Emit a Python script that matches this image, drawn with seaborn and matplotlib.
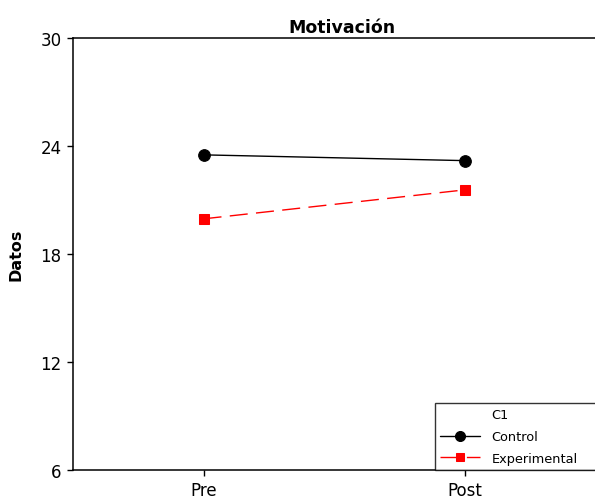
import matplotlib
matplotlib.use("Agg")
import matplotlib.pyplot as plt
from matplotlib.lines import Line2D
import seaborn as sns
import pandas as pd

# Data
periods = ["Pre", "Post"]
control = [23.5, 23.18]
experimental = [19.95, 21.56]
groups = ["Control", "Experimental"]
legend_title = "C1"
yticks = [6, 12, 18, 24, 30]

df = pd.DataFrame({
    "Periodo": periods * 2,
    "Datos": control + experimental,
    "C1": [groups[0]] * 2 + [groups[1]] * 2,
})

sns.set_theme(style="white")
plt.rcParams["font.family"] = ["DejaVu Sans"]
plt.rcParams["text.color"] = "black"
plt.rcParams["axes.labelcolor"] = "black"
plt.rcParams["axes.titlecolor"] = "black"
plt.rcParams["legend.labelcolor"] = "black"

fig = plt.figure(figsize=(5.95, 5.02), dpi=100)
W, H = 595, 502
ax_left, ax_right, ax_top, ax_bottom = 72.7, 596.0, 38.7, 471.3
ax = fig.add_axes([ax_left / W, (H - ax_bottom) / H,
                   (ax_right - ax_left) / W, (ax_bottom - ax_top) / H])

sns.pointplot(data=df, x="Periodo", y="Datos", hue="C1", order=periods,
              hue_order=groups, palette=["black", "#ff0000"],
              markers=["o", "s"], linestyles=["-", (0, (13, 6))],
              errorbar=None, markersize=8.4, linewidth=1.0, ax=ax)

# slightly smaller squares, as in the reference
for ln in ax.lines:
    if ln.get_marker() == "s":
        ln.set_markersize(7.2)

ax.set_xlim(-0.5, 1.5)
ax.set_ylim(6, 30)
ax.set_yticks(yticks)
ax.set_yticklabels([str(t) for t in yticks])
ax.set_xlabel("")
ax.set_ylabel("Datos", fontsize=11.5, fontweight="bold", labelpad=12,
              color="black")

for side in ["left", "top", "bottom"]:
    ax.spines[side].set_color("black")
    ax.spines[side].set_linewidth(1.1)
ax.spines["right"].set_visible(False)

ax.tick_params(axis="both", which="both", direction="out", length=4.5,
               width=1.0, color="black", labelsize=12, pad=3.5,
               left=True, bottom=True, labelcolor="black")

title_x = (342 - ax_left) / (ax_right - ax_left)
ax.set_title("Motivación", fontsize=12.5, fontweight="heavy", x=title_x,
             pad=4, color="black")

# Legend
old = ax.get_legend()
handles = list(old.legend_handles)
labels = [t.get_text() for t in old.get_texts()]
old.remove()
for h in handles:
    if h.get_marker() == "o":
        h.set_markersize(7.2)
    elif h.get_marker() == "s":
        h.set_markersize(6.0)
blank = Line2D([], [], linestyle="none", marker="none")
leg_x0 = (435 - ax_left) / (ax_right - ax_left)
leg_w = (640 - 435) / (ax_right - ax_left)
leg = ax.legend([blank] + handles, [legend_title] + labels,
                loc="lower left", bbox_to_anchor=(leg_x0, 0, leg_w, 0.2),
                mode="expand", borderaxespad=0, fontsize=9.3, frameon=True,
                fancybox=False, handlelength=3.1, handletextpad=0.85,
                labelspacing=0.68, borderpad=0.42)
leg.get_frame().set_edgecolor("black")
leg.get_frame().set_linewidth(1.0)
for t in leg.get_texts():
    t.set_color("black")

fig.savefig("out.png", dpi=100)
